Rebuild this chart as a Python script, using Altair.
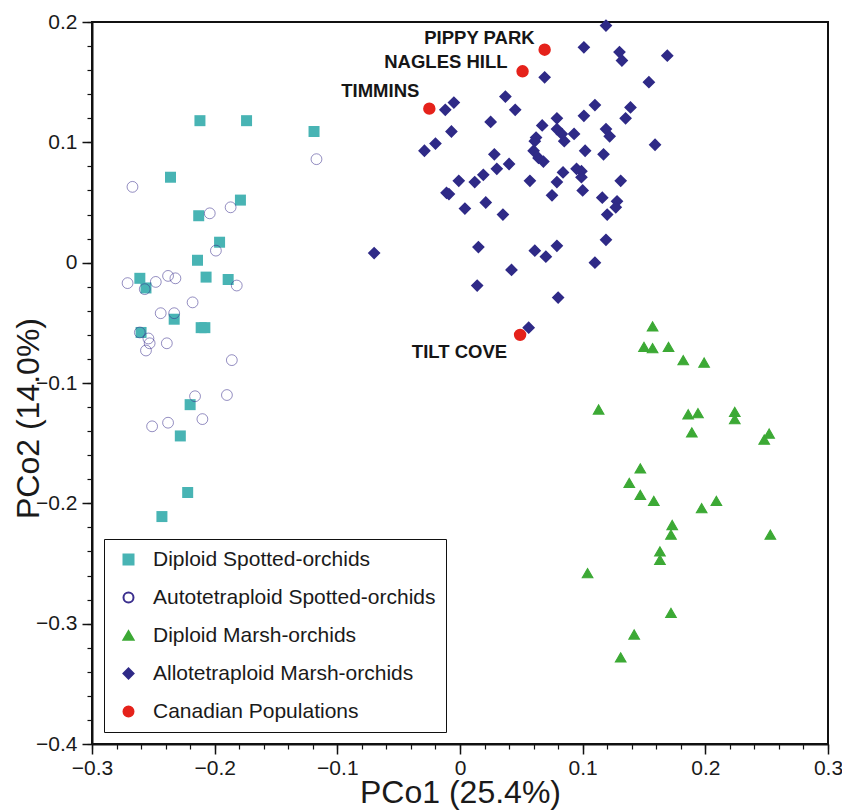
import altair as alt
import pandas as pd

groups = ["Diploid Spotted-orchids", "Autotetraploid Spotted-orchids",
          "Diploid Marsh-orchids", "Allotetraploid Marsh-orchids",
          "Canadian Populations"]

# Diploid Spotted-orchids (squares)
ds_x = [-0.212, -0.174, -0.119, -0.236, -0.179, -0.213, -0.196, -0.214, -0.261, -0.207,
        -0.189, -0.256, -0.233, -0.211, -0.208, -0.260, -0.220, -0.228, -0.222, -0.243]
ds_y = [0.118, 0.118, 0.109, 0.071, 0.052, 0.039, 0.017, 0.002, -0.013, -0.012,
        -0.014, -0.021, -0.047, -0.054, -0.054, -0.058, -0.118, -0.144, -0.191, -0.211]

# Autotetraploid Spotted-orchids (open circles)
as_x = [-0.117, -0.267, -0.204, -0.187, -0.199, -0.271, -0.248, -0.238, -0.232, -0.257,
        -0.182, -0.218, -0.244, -0.233, -0.261, -0.254, -0.253, -0.256, -0.239, -0.186,
        -0.216, -0.190, -0.210, -0.238, -0.251]
as_y = [0.086, 0.063, 0.041, 0.046, 0.010, -0.017, -0.016, -0.011, -0.013, -0.022,
        -0.019, -0.033, -0.042, -0.042, -0.058, -0.063, -0.067, -0.073, -0.067, -0.081,
        -0.111, -0.110, -0.130, -0.133, -0.136]

# Allotetraploid Marsh-orchids (diamonds)
am_x = [0.119, 0.101, 0.130, 0.132, 0.169, 0.069, 0.154, 0.037, -0.005, -0.012,
        0.045, 0.110, 0.139, 0.101, 0.079, 0.135, 0.025, 0.067, -0.007, 0.079,
        0.083, 0.093, 0.119, 0.122, 0.159, 0.062, 0.061, 0.085, -0.020, -0.029,
        0.060, 0.102, 0.117, 0.028, 0.064, 0.068, 0.040, 0.030, 0.095, 0.099,
        0.084, 0.019, -0.001, 0.012, 0.057, 0.079, 0.099, 0.131, -0.011, -0.009,
        0.075, 0.100, 0.116, 0.128, 0.127, 0.004, 0.021, 0.035, 0.120, 0.119,
        -0.070, 0.015, 0.061, 0.079, 0.070, 0.042, 0.110, 0.014, 0.080, 0.056]
am_y = [0.197, 0.179, 0.175, 0.168, 0.172, 0.154, 0.150, 0.138, 0.133, 0.127,
        0.127, 0.131, 0.129, 0.122, 0.120, 0.120, 0.117, 0.114, 0.109, 0.111,
        0.107, 0.107, 0.111, 0.105, 0.098, 0.104, 0.101, 0.101, 0.099, 0.093,
        0.093, 0.093, 0.090, 0.090, 0.087, 0.084, 0.082, 0.078, 0.078, 0.076,
        0.075, 0.073, 0.068, 0.067, 0.068, 0.067, 0.071, 0.068, 0.058, 0.057,
        0.056, 0.060, 0.054, 0.051, 0.046, 0.045, 0.050, 0.040, 0.040, 0.019,
        0.008, 0.013, 0.010, 0.014, 0.005, -0.006, 0.000, -0.019, -0.029, -0.054]

# Diploid Marsh-orchids (triangles)
dm_x = [0.157, 0.150, 0.157, 0.170, 0.182, 0.199, 0.113, 0.186, 0.194, 0.224,
        0.224, 0.189, 0.252, 0.248, 0.147, 0.138, 0.147, 0.158, 0.197, 0.209,
        0.173, 0.172, 0.253, 0.163, 0.163, 0.104, 0.172, 0.142, 0.131]
dm_y = [-0.053, -0.070, -0.071, -0.070, -0.081, -0.083, -0.122, -0.126, -0.125, -0.124,
        -0.130, -0.141, -0.142, -0.147, -0.171, -0.183, -0.193, -0.198, -0.204, -0.198,
        -0.218, -0.226, -0.226, -0.240, -0.247, -0.258, -0.291, -0.309, -0.328]

# Canadian Populations (red)
cp_names = ["PIPPY PARK", "NAGLES HILL", "TIMMINS", "TILT COVE"]
cp_x = [0.069, 0.051, -0.025, 0.049]
cp_y = [0.177, 0.159, 0.128, -0.060]

x_major = [-0.3, -0.2, -0.1, 0.0, 0.1, 0.2, 0.3]
y_major = [-0.4, -0.3, -0.2, -0.1, 0.0, 0.1, 0.2]
x_minor = [round(-0.3 + 0.02 * i, 2) for i in range(31)]
y_minor = [round(-0.4 + 0.02 * i, 2) for i in range(31)]

# styles
fills = ["#48b4b4", "transparent", "#3ca935", "#2f2a87", "#e5221b"]
strokes = ["#48b4b4", "#3b2f8e", "#3ca935", "#2f2a87", "#e5221b"]
shapes = ["square", "circle", "triangle-up", "diamond", "circle"]
style_keys = ["st_sq", "st_oc", "st_tr", "st_di", "st_rc"]
sizes = [121, 105, 170, 115, 120]
swidths = [0, 2.2, 0, 0, 0]
label_offsets = {"PIPPY PARK": (-10, -12), "NAGLES HILL": (-15, -9),
                 "TIMMINS": (-10, -18), "TILT COVE": (-13, 17)}

rows = []
for xs, ys, gi in [(ds_x, ds_y, 0), (as_x, as_y, 1), (am_x, am_y, 3), (dm_x, dm_y, 2)]:
    for a, b in zip(xs, ys):
        rows.append({"x": a, "y": b, "group": groups[gi], "style": style_keys[gi], "name": ""})
for n, a, b in zip(cp_names, cp_x, cp_y):
    rows.append({"x": a, "y": b, "group": groups[4], "style": style_keys[4], "name": n})
df = pd.DataFrame(rows)
df["order"] = range(len(df))

FONT = "Liberation Sans"
xscale = alt.Scale(domain=[-0.3, 0.3], nice=False, zero=False)
yscale = alt.Scale(domain=[-0.4, 0.2], nice=False, zero=False)
lab_expr = "datum.value == 0 ? '0' : format(datum.value, '.1f')"

legend = alt.Legend(title=None, orient="bottom-left", offset=12,
                    strokeColor="#111111", fillColor="white", padding=10,
                    symbolOffset=4, labelOffset=14, rowPadding=16, symbolSize=100,
                    symbolStrokeWidth=2, labelFont=FONT, labelFontSize=21,
                    labelColor="#1a1a1a", labelLimit=400)

points = alt.Chart(df).mark_point(filled=True, opacity=1).encode(
    x=alt.X("x:Q", scale=xscale,
            axis=alt.Axis(values=x_major, labelExpr=lab_expr, title="PCo1 (25.4%)",
                          orient="bottom", grid=False, tickSize=10, tickWidth=1.5,
                          tickColor="#111", domainColor="#111", domainWidth=2,
                          labelFont=FONT, labelFontSize=21, labelColor="#1a1a1a",
                          labelPadding=3, labelFlush=False,
                          titleFont=FONT, titleFontSize=32, titleFontWeight="normal",
                          titleColor="#1a1a1a", titleBaseline="alphabetic", titleY=58)),
    y=alt.Y("y:Q", scale=yscale,
            axis=alt.Axis(values=y_major, labelExpr=lab_expr, title="PCo2 (14.0%)",
                          orient="left", grid=False, tickSize=10, tickWidth=1.5,
                          tickColor="#111", domainColor="#111", domainWidth=2,
                          labelFont=FONT, labelFontSize=21, labelColor="#1a1a1a",
                          labelPadding=5, labelFlush=False,
                          titleFont=FONT, titleFontSize=32, titleFontWeight="normal",
                          titleColor="#1a1a1a", titleBaseline="alphabetic",
                          titleX=-54, titleY=396, titleAngle=270)),
    fill=alt.Fill("group:N", scale=alt.Scale(domain=groups, range=fills), legend=legend),
    stroke=alt.Stroke("group:N", scale=alt.Scale(domain=groups, range=strokes), legend=legend),
    shape=alt.Shape("group:N", scale=alt.Scale(domain=groups, range=shapes), legend=legend),
    size=alt.Size("style:N", scale=alt.Scale(domain=style_keys, range=sizes), legend=None),
    strokeWidth=alt.StrokeWidth("style:N", scale=alt.Scale(domain=style_keys, range=swidths), legend=None),
    order=alt.Order("order:Q"),
)

minor = alt.Chart(df).mark_point(opacity=0).encode(
    x=alt.X("x:Q", scale=xscale,
            axis=alt.Axis(values=x_minor, labels=False, title=None, orient="bottom",
                          grid=False, domain=False, tickSize=5, tickWidth=1.2,
                          tickColor="#111")),
    y=alt.Y("y:Q", scale=yscale,
            axis=alt.Axis(values=y_minor, labels=False, title=None, orient="left",
                          grid=False, domain=False, tickSize=5, tickWidth=1.2,
                          tickColor="#111")),
)

label_layers = []
for n in cp_names:
    dx, dy = label_offsets[n]
    label_layers.append(
        alt.Chart(df).transform_filter(alt.datum.name == n).mark_text(
            align="right", baseline="middle", dx=dx, dy=dy, font=FONT,
            fontSize=18.5, fontWeight="bold", color="#161616"
        ).encode(
            x=alt.X("x:Q", scale=xscale, axis=None),
            y=alt.Y("y:Q", scale=yscale, axis=None),
            text="name:N",
        )
    )

chart = alt.layer(minor, points, *label_layers).resolve_axis(
    x="independent", y="independent"
).properties(
    width=736, height=722,
    autosize=alt.AutoSizeParams(type="none"),
    padding={"left": 84, "top": 14, "right": 14, "bottom": 66},
).configure_view(stroke="#111111", strokeWidth=2)

chart.save("out.html", embed_options={"renderer": "svg", "actions": False})
